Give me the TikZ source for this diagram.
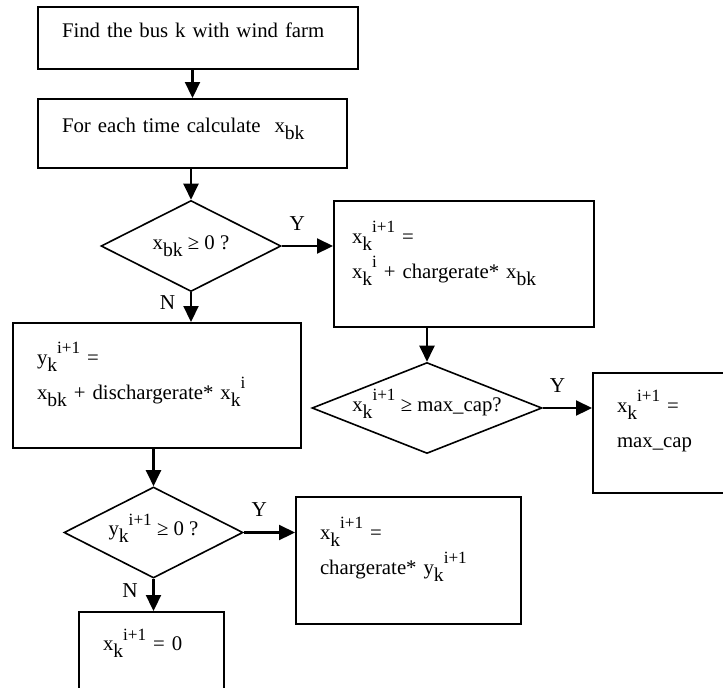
\documentclass[tikz,border=0pt]{standalone}
\usepackage{fontspec}
\setmainfont{Liberation Serif}
\usepackage{tikz}
\usetikzlibrary{arrows.meta,positioning,shapes.geometric}
% index helpers: lowered subscript, raised superscript
\newcommand{\subtxt}[1]{\raisebox{-0.33em}{\fontsize{9.8}{10}\selectfont #1}}
\newcommand{\suptxt}[1]{\smash{\raisebox{0.52em}{\fontsize{8.6}{9}\selectfont #1}}}

\begin{document}
\begin{tikzpicture}[
  x=0.5pt,y=-0.5pt,
  box/.style={draw,line width=1pt,anchor=north west,align=left,inner xsep=12pt,inner ysep=0pt,font=\fontsize{10.4}{17.5}\selectfont,execute at end node={\rule[-8pt]{0pt}{0pt}}},
  decision/.style={diamond,draw,line width=0.8pt,aspect=2.5,inner sep=0pt,font=\fontsize{10.4}{12}\selectfont},
  arrow/.style={-{Triangle[length=8pt,width=7.5pt]},line width=1.1pt},
  yeslabel/.style={above,pos=0.3,yshift=4pt,font=\fontsize{10.6}{12}\selectfont},
  nolabel/.style={left,pos=0.35,xshift=-4pt,font=\fontsize{10.6}{12}\selectfont}
]
  \useasboundingbox (0,0) rectangle (723,687);
  \node[box,text width=136pt,minimum height=31pt] (find) at (37,6) {Find the bus k with wind farm};
  \node[box,text width=130.5pt,minimum height=34.5pt] (calc) at (37,98) {For each time calculate\ \ x\subtxt{bk}};
  \node[decision,minimum width=90pt,minimum height=45.5pt] (sign) at (191,246) {x\subtxt{bk} ≥ 0 ?};
  \node[box,inner xsep=9pt,text width=112pt,minimum height=63pt] (charge) at (333,200) {x\subtxt{k}\suptxt{i+1} =\\x\subtxt{k}\suptxt{i} + chargerate* x\subtxt{bk}};
  \node[box,text width=120pt,minimum height=62.5pt] (discharge) at (12,322) {y\subtxt{k}\suptxt{i+1} =\\x\subtxt{bk} + dischargerate* x\subtxt{k}\suptxt{i}};
  \node[decision,minimum width=115pt,minimum height=45.5pt] (full) at (427,408) {x\subtxt{k}\suptxt{i+1} ≥ max\_cap?};
  \node[box,text width=51pt,minimum height=60pt] (capped) at (592,372) {x\subtxt{k}\suptxt{i+1} =\\max\_cap};
  \node[decision,minimum width=89.5pt,minimum height=45.5pt] (surplus) at (153.5,532.5) {y\subtxt{k}\suptxt{i+1} ≥ 0 ?};
  \node[box,text width=88.5pt,minimum height=63.5pt] (store) at (295,496) {x\subtxt{k}\suptxt{i+1} =\\chargerate* y\subtxt{k}\suptxt{i+1}};
  \node[box,text width=48.5pt,minimum height=40pt] (empty) at (78,611) {x\subtxt{k}\suptxt{i+1} = 0};
  % flow
  \draw[arrow] (find.south -| calc.north) -- (calc.north);
  \draw[arrow] (calc.south -| sign.north) -- (sign.north);
  \draw[arrow] (sign.east) -- node[yeslabel] {Y} (sign.east -| charge.west);
  \draw[arrow] (sign.south) -- node[nolabel] {N} (sign.south |- discharge.north);
  \draw[arrow] (charge.south -| full.north) -- (full.north);
  \draw[arrow] (full.east) -- node[yeslabel] {Y} (full.east -| capped.west);
  \draw[arrow] (discharge.south -| surplus.north) -- (surplus.north);
  \draw[arrow] (surplus.east) -- node[yeslabel] {Y} (surplus.east -| store.west);
  \draw[arrow] (surplus.south) -- node[nolabel] {N} (surplus.south |- empty.north);
\end{tikzpicture}
\end{document}
